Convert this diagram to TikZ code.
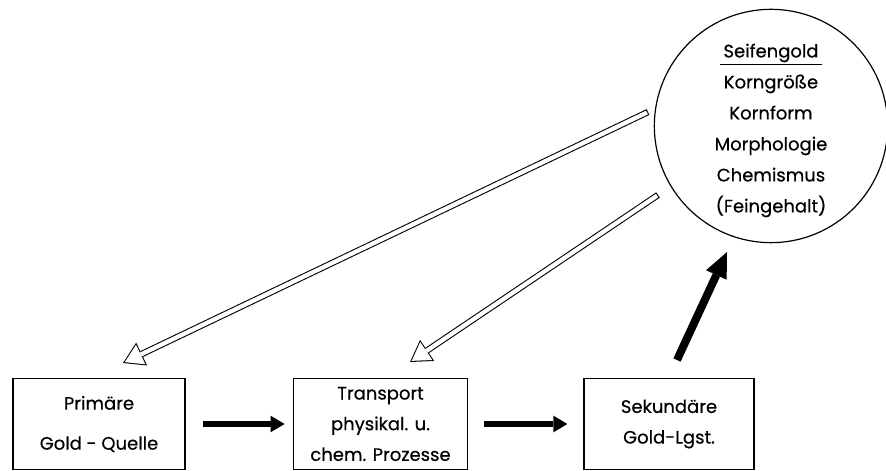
\documentclass[tikz,border=0pt]{standalone}
\usepackage{fontspec}
\setmainfont{Poppins}[UprightFeatures={FakeBold=0.5}]
\usetikzlibrary{arrows.meta}

\begin{document}
\begin{tikzpicture}[x=.75pt,y=.75pt,
  kasten/.style={draw, line width=.9pt, minimum width=129pt, minimum height=68pt,
    inner sep=0pt, align=center, font=\fontsize{13.5}{23}\selectfont},
  kreis/.style={draw, circle, line width=.9pt, minimum size=175pt, inner sep=0pt,
    align=center, font=\fontsize{13.5}{23.25}\selectfont},
  pfeil/.style={line width=4.5pt, -{Triangle[length=10.5pt,width=12.5pt,line width=0pt]}},
  dick/.style={line width=6pt, -{Triangle[length=19pt,width=17pt,line width=0pt]}},
  hohl/.style={line width=4.8pt, -{Triangle[length=15.5pt,width=19pt,line width=0pt]},
    postaction={draw, white, line width=3.2pt, shorten >=1.5pt, shorten <=.8pt,
      -{Triangle[length=13.2pt,width=16.2pt,line width=0pt]}}}]
\useasboundingbox (0,0) rectangle (886,471);

% Kaesten unten
\node[kasten] (prim) at (99,47) {Primäre\\[7pt]Gold - Quelle};
\node[kasten, minimum width=131pt] (trans) at (380.5,47) {Transport\\physikal. u.\\chem. Prozesse};
\node[kasten, minimum width=127.5pt] (sek) at (669,47) {Sekundäre\\Gold-Lgst.};

% Kreis oben rechts
\node[kreis] (seife) at (771,345) {\rule{0pt}{17pt}\underline{\,Seifengold\,}\\Korngröße\\Kornform\\Morphologie\\Chemismus\\(Feingehalt)};

\coordinate (s1) at (648,359);
\coordinate (z1) at (123,108);
\coordinate (s2) at (658,276);
\coordinate (z2) at (410,109);
\coordinate (s3) at (677,111);
\coordinate (z3) at (727,219);

\draw[pfeil] ([xshift=13]prim.east) -- ([xshift=-6]trans.west);
\draw[pfeil] ([xshift=12]trans.east) -- ([xshift=-12]sek.west);
\draw[dick] (s3) -- (z3);
\draw[hohl] (s1) -- (z1);
\draw[hohl] (s2) -- (z2);
\end{tikzpicture}
\end{document}
